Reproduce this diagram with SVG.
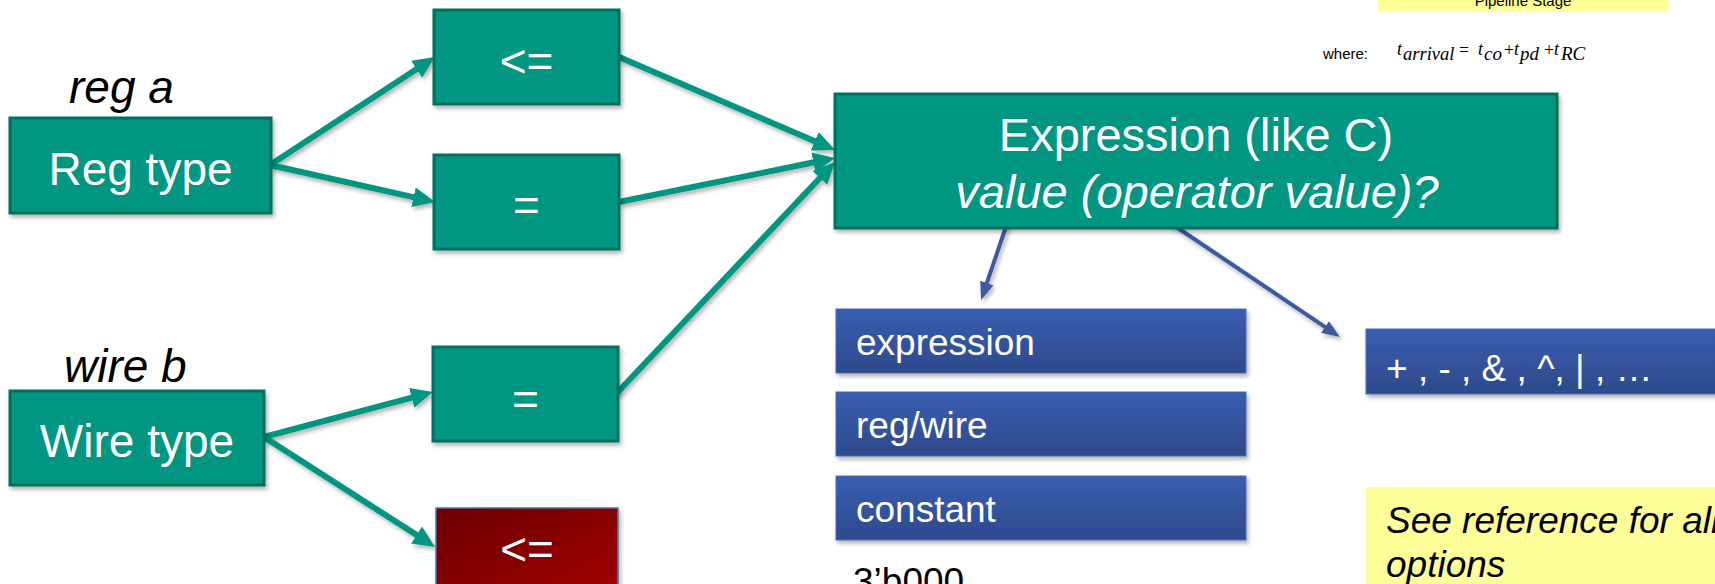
<svg xmlns="http://www.w3.org/2000/svg" width="1715" height="584" viewBox="0 0 1715 584">
  <defs>
    <style>
      text { font-family: "Liberation Sans", Arial, sans-serif; }
      .teal { fill: #019681; stroke: #00705f; stroke-width: 3; }
      .blue { fill: url(#blueGrad); stroke: #4a6cb8; stroke-width: 1; }
      .white { fill: #ffffff; }
      .big { font-size: 46px; }
      .mid { font-size: 37px; }
      .label { font-size: 46px; font-style: italic; fill: #000000; }
      .conn { stroke: #019681; stroke-width: 6; fill: none; marker-end: url(#tealHead); }
      .bconn { stroke: #3d5a9e; stroke-width: 4; fill: none; marker-end: url(#blueHead); }
      .note { fill: #ffff99; }
      .math { font-family: "Liberation Serif", "Times New Roman", serif; font-style: italic; fill: #000000; }
      .op { font-family: "Liberation Serif", "Times New Roman", serif; font-size: 18px; fill: #000000; }
    </style>
    <linearGradient id="blueGrad" x1="0" y1="0" x2="0" y2="1">
      <stop offset="0" stop-color="#3a5db1"/>
      <stop offset="1" stop-color="#2d4a8b"/>
    </linearGradient>
    <linearGradient id="redGrad" x1="0" y1="0" x2="1" y2="1">
      <stop offset="0" stop-color="#6c0000"/>
      <stop offset="1" stop-color="#a30000"/>
    </linearGradient>
    <filter id="shadow" x="-10%" y="-10%" width="130%" height="140%">
      <feDropShadow dx="2" dy="3" stdDeviation="2" flood-color="#000000" flood-opacity="0.3"/>
    </filter>
    <marker id="tealHead" markerUnits="userSpaceOnUse" viewBox="0 -11 23 22" refX="2" refY="0" markerWidth="23" markerHeight="22" orient="auto">
      <path d="M0,-10 L22,0 L0,10 z" fill="#019681"/>
    </marker>
    <marker id="blueHead" markerUnits="userSpaceOnUse" viewBox="0 -8 19 16" refX="2" refY="0" markerWidth="19" markerHeight="16" orient="auto">
      <path d="M0,-7 L18,0 L0,7 z" fill="#3d5a9e"/>
    </marker>
  </defs>

  <rect width="1715" height="584" fill="#ffffff"/>

  <!-- formula strip in the upper right corner -->
  <g id="pipeline-note">
    <rect class="note" x="1378" y="-10" width="291" height="22"/>
    <text x="1523" y="6" font-size="15" text-anchor="middle" fill="#000000">Pipeline Stage</text>
  </g>
  <g id="arrival-formula">
    <text x="1323" y="59" font-size="15" fill="#000000">where:</text>
    <text class="math" x="1397" y="55" font-size="18">t</text>
    <text class="math" x="1403" y="60" font-size="18.5">arrival</text>
    <text class="op" x="1459" y="56">=</text>
    <text class="math" x="1478" y="55" font-size="18">t</text>
    <text class="math" x="1484" y="60" font-size="19">co</text>
    <text class="op" x="1504" y="56">+</text>
    <text class="math" x="1514" y="55" font-size="18">t</text>
    <text class="math" x="1520" y="60" font-size="19">pd</text>
    <text class="op" x="1544" y="56">+</text>
    <text class="math" x="1554" y="55" font-size="18">t</text>
    <text class="math" x="1561" y="60" font-size="19">RC</text>
  </g>

  <!-- connectors -->
  <g id="connectors">
    <g filter="url(#shadow)">
      <line class="conn" x1="270" y1="165" x2="418.3" y2="68"/>
      <line class="conn" x1="270" y1="165" x2="415.5" y2="197.6"/>
      <line class="conn" x1="619" y1="57" x2="816.6" y2="142.1"/>
      <line class="conn" x1="619" y1="202" x2="815.4" y2="162"/>
      <line class="conn" x1="616" y1="394" x2="821.3" y2="176.5"/>
      <line class="conn" x1="264" y1="437" x2="413.7" y2="397.2"/>
      <line class="conn" x1="264" y1="437" x2="418.2" y2="536.1"/>
      <line class="bconn" x1="1011" y1="212" x2="986.2" y2="284.9"/>
      <line class="bconn" x1="1163" y1="218" x2="1326.7" y2="328.1"/>
    </g>
  </g>

  <!-- left: declarations -->
  <g id="reg-label">
    <text class="label" x="69" y="103">reg a</text>
  </g>
  <g id="reg-type">
    <rect class="teal" x="10" y="118" width="261" height="95" filter="url(#shadow)"/>
    <text class="white big" x="140.5" y="185" text-anchor="middle">Reg type</text>
  </g>
  <g id="wire-label">
    <text class="label" x="64" y="382">wire b</text>
  </g>
  <g id="wire-type">
    <rect class="teal" x="10" y="391" width="254" height="94" filter="url(#shadow)"/>
    <text class="white big" x="137" y="457" text-anchor="middle">Wire type</text>
  </g>

  <!-- middle: assignment operators -->
  <g id="reg-nonblocking">
    <rect class="teal" x="434" y="10" width="185" height="94" filter="url(#shadow)"/>
    <text class="white big" x="526.5" y="77" text-anchor="middle">&lt;=</text>
  </g>
  <g id="reg-blocking">
    <rect class="teal" x="434" y="155" width="185" height="94" filter="url(#shadow)"/>
    <text class="white big" x="526.5" y="221" text-anchor="middle">=</text>
  </g>
  <g id="wire-assign">
    <rect class="teal" x="433" y="347" width="185" height="94" filter="url(#shadow)"/>
    <text class="white big" x="525.5" y="415" text-anchor="middle">=</text>
  </g>
  <g id="wire-nonblocking">
    <rect x="436" y="508" width="182" height="94" fill="url(#redGrad)" stroke="#5070b0" stroke-width="1.5" filter="url(#shadow)"/>
    <text class="white big" x="527" y="565" text-anchor="middle">&lt;=</text>
  </g>

  <!-- right: expression grammar -->
  <g id="expression">
    <rect class="teal" x="835" y="94" width="722" height="134" filter="url(#shadow)"/>
    <text class="white" x="1196" y="151" font-size="47" text-anchor="middle">Expression (like C)</text>
    <text class="white" x="1197" y="208" font-size="47" font-style="italic" text-anchor="middle">value (operator value)?</text>
  </g>
  <g id="value-expression">
    <rect class="blue" x="836" y="309" width="410" height="64" filter="url(#shadow)"/>
    <text class="white mid" x="856" y="355">expression</text>
  </g>
  <g id="value-regwire">
    <rect class="blue" x="836" y="392" width="410" height="64" filter="url(#shadow)"/>
    <text class="white mid" x="856" y="438">reg/wire</text>
  </g>
  <g id="value-constant">
    <rect class="blue" x="836" y="476" width="410" height="64" filter="url(#shadow)"/>
    <text class="white mid" x="856" y="522">constant</text>
  </g>
  <g id="constant-example">
    <text class="mid" x="853" y="594" fill="#000000">3’b000</text>
  </g>
  <g id="operators">
    <rect class="blue" x="1366" y="329" width="370" height="65" filter="url(#shadow)"/>
    <text class="white mid" x="1386" y="381">+ , - , &amp; , ^, | , …</text>
  </g>
  <g id="reference-note">
    <rect class="note" x="1366" y="487" width="370" height="110"/>
    <text x="1386" y="533" font-size="37" font-style="italic" fill="#000000">See reference for all</text>
    <text x="1386" y="577" font-size="37" font-style="italic" fill="#000000">options</text>
  </g>
</svg>
